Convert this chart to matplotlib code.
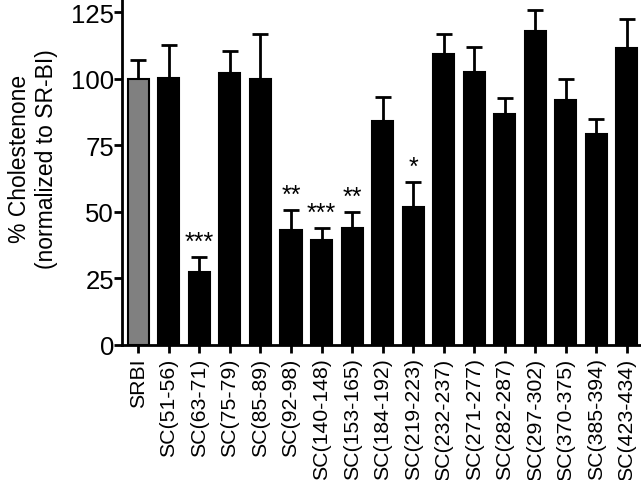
import numpy as np
import matplotlib
matplotlib.use('Agg')
import matplotlib.pyplot as plt

plt.rcParams['font.family'] = ['Liberation Sans', 'DejaVu Sans']

labels = ['SRBI', 'SC(51-56)', 'SC(63-71)', 'SC(75-79)', 'SC(85-89)', 'SC(92-98)',
          'SC(140-148)', 'SC(153-165)', 'SC(184-192)', 'SC(219-223)', 'SC(232-237)',
          'SC(271-277)', 'SC(282-287)', 'SC(297-302)', 'SC(370-375)', 'SC(385-394)',
          'SC(423-434)']
means = [100, 100.3, 27.2, 102.3, 100, 43.2, 39.5, 44, 84, 51.8, 109.2, 102.5,
         86.7, 117.9, 92, 79.3, 111.5]
errors = [7, 12.5, 5.8, 8, 17, 7.5, 4.5, 6, 9.2, 9.4, 7.5, 9.5, 6, 8.1, 7.8, 5.5, 10.9]
stars = {2: '***', 5: '**', 6: '***', 7: '**', 9: '*'}

x = np.arange(len(labels))
colors = ['#808080'] + ['black'] * (len(labels) - 1)

fig = plt.figure(figsize=(6.41, 4.81), dpi=100)
ax = fig.add_axes([0.191, 0.281, 0.809, 0.719])

ax.bar(x, means, width=0.69, color=colors, edgecolor='black', linewidth=1.5, zorder=2)
ax.errorbar(x, means, yerr=[np.zeros(len(means)), errors], fmt='none',
            ecolor='black', elinewidth=2, capsize=6, capthick=2, zorder=1,
            clip_on=False)

for i, s in stars.items():
    ax.text(x[i], means[i] + errors[i] + 1.2, s, ha='center', va='bottom',
            fontsize=18)

ax.set_xlim(-0.52, 16.46)
ax.set_ylim(0, 130)
ax.set_yticks([0, 25, 50, 75, 100, 125])
ax.set_xticks(x)
ax.set_xticklabels(labels, rotation=90, fontsize=15.3)
ax.tick_params(axis='y', labelsize=18.5, width=2, length=6, pad=0)
ax.tick_params(axis='x', width=2, length=6, pad=3)

for side in ['top', 'right']:
    ax.spines[side].set_visible(False)
for side in ['left', 'bottom']:
    ax.spines[side].set_linewidth(2)

ax.set_ylabel('% Cholestenone\n(normalized to SR-BI)', fontsize=16.5)
ax.yaxis.set_label_coords(-0.125, 0.54)

fig.savefig('out.png', dpi=100)
